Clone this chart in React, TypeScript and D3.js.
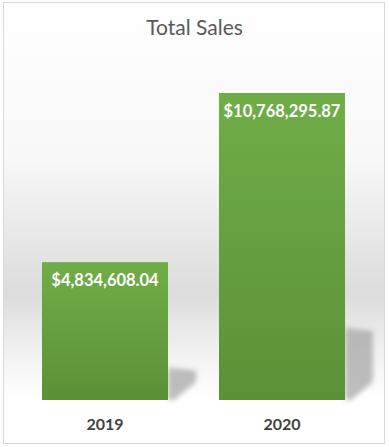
import React, { useEffect, useRef } from "react";
import * as d3 from "d3";

const years = ["2019", "2020"];
const sales = [4834608.04, 10768295.87];
const title = "Total Sales";

const W = 389;
const H = 447;

export default function App() {
  const ref = useRef<SVGSVGElement>(null);

  useEffect(() => {
    const svg = d3.select(ref.current);
    svg.selectAll("*").remove();

    const defs = svg.append("defs");
    const bg = defs
      .append("linearGradient")
      .attr("id", "bg")
      .attr("x1", 0)
      .attr("y1", 0)
      .attr("x2", 0)
      .attr("y2", 1);
    bg.append("stop").attr("offset", "0%").attr("stop-color", "#ffffff");
    bg.append("stop").attr("offset", "35%").attr("stop-color", "#f8f8f8");
    bg.append("stop").attr("offset", "66%").attr("stop-color", "#dcdcdc");
    bg.append("stop").attr("offset", "80%").attr("stop-color", "#f2f2f2");
    bg.append("stop").attr("offset", "90%").attr("stop-color", "#ffffff");

    const barGrad = defs
      .append("linearGradient")
      .attr("id", "bar")
      .attr("x1", 0)
      .attr("y1", 0)
      .attr("x2", 0)
      .attr("y2", 1);
    barGrad.append("stop").attr("offset", "0%").attr("stop-color", "#70ad47");
    barGrad.append("stop").attr("offset", "100%").attr("stop-color", "#5b9137");

    const blur = defs.append("filter").attr("id", "blur").attr("x", "-50%").attr("y", "-50%").attr("width", "200%").attr("height", "200%");
    blur.append("feGaussianBlur").attr("stdDeviation", 2.5);

    svg
      .append("rect")
      .attr("x", 3.5)
      .attr("y", 2.5)
      .attr("width", 381)
      .attr("height", 441)
      .attr("fill", "url(#bg)")
      .attr("stroke", "#d9d9d9");

    svg
      .append("text")
      .attr("x", W / 2)
      .attr("y", 35)
      .attr("text-anchor", "middle")
      .attr("font-family", "Lato, sans-serif")
      .attr("font-size", 21)
      .attr("fill", "#595959")
      .text(title);

    const x = d3.scaleBand().domain(years).range([16.5, 370.5]).paddingInner(0.288).paddingOuter(0.144);
    const y = d3.scaleLinear().domain([0, d3.max(sales) as number]).range([400, 93]);

    const data = years.map((yr, i) => ({ yr, v: sales[i] }));

    // perspective shadows cast behind the bars
    svg
      .selectAll(".shadow")
      .data(data)
      .join("path")
      .attr("class", "shadow")
      .attr("d", (d) => {
        const x1 = (x(d.yr) as number) + x.bandwidth();
        const top = 400 - (400 - y(d.v)) * 0.235;
        const wd = 28;
        const low = Math.max(top + 8, 382);
        return `M${x1},${top} L${x1 + wd},${top + 3} L${x1 + wd},${low} L${x1 + 6},${400} L${x1},${400} Z`;
      })
      .attr("fill", "#a8a8a8")
      .attr("opacity", 0.75)
      .attr("filter", "url(#blur)");

    svg
      .selectAll(".bar")
      .data(data)
      .join("rect")
      .attr("class", "bar")
      .attr("x", (d) => x(d.yr) as number)
      .attr("y", (d) => y(d.v))
      .attr("width", x.bandwidth())
      .attr("height", (d) => 400 - y(d.v))
      .attr("fill", "url(#bar)");

    const fmt = d3.format("$,.2f");
    svg
      .selectAll(".lbl")
      .data(data)
      .join("text")
      .attr("class", "lbl")
      .attr("x", (d) => (x(d.yr) as number) + x.bandwidth() / 2)
      .attr("y", (d) => y(d.v) + 24)
      .attr("text-anchor", "middle")
      .attr("font-family", "Lato, sans-serif")
      .attr("font-weight", "bold")
      .attr("font-size", 16.5)
      .attr("fill", "#ffffff")
      .text((d) => fmt(d.v));

    svg
      .selectAll(".tick")
      .data(data)
      .join("text")
      .attr("class", "tick")
      .attr("x", (d) => (x(d.yr) as number) + x.bandwidth() / 2)
      .attr("y", 430)
      .attr("text-anchor", "middle")
      .attr("font-family", "Lato, sans-serif")
      .attr("font-weight", "bold")
      .attr("font-size", 16)
      .attr("fill", "#404040")
      .text((d) => d.yr);
  }, []);

  return (
    <svg
      ref={ref}
      width={W}
      height={H}
      style={{ position: "absolute", left: 0, top: 0 }}
    />
  );
}
